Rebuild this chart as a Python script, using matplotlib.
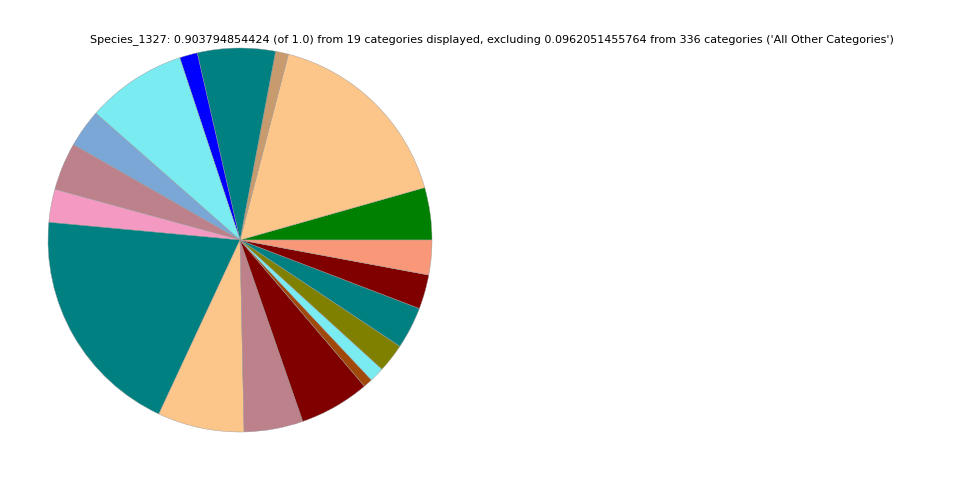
import matplotlib
matplotlib.use("Agg")
import matplotlib.pyplot as plt

categories = [f"Category_{i+1}" for i in range(19)]
values = [0.0398, 0.1495, 0.0098, 0.0592, 0.0136, 0.0763, 0.0289, 0.0364, 0.0251,
          0.1765, 0.0658, 0.0449, 0.0535, 0.0070, 0.0113, 0.0218, 0.0319, 0.0261, 0.0264]
colors = ["#008000", "#FCC68A", "#C89B6E", "#008080", "#0000FF", "#7BEBF2", "#7BA7D7",
          "#BC818B", "#F49AC2", "#008080", "#FCC68A", "#BC818B", "#800000", "#A0490A",
          "#7BEBF2", "#808000", "#008080", "#800000", "#F89878"]
title = ("Species_1327: 0.903794854424 (of 1.0) from 19 categories displayed, excluding "
         "0.0962051455764 from 336 categories ('All Other Categories')")

fig = plt.figure(figsize=(9.6, 4.8), dpi=100)
ax = fig.add_axes([48/960, 48/480, 384/960, 384/480])
ax.pie(values, colors=colors, startangle=0, counterclock=True, normalize=True,
       wedgeprops=dict(edgecolor="#999999", linewidth=0.3))
ax.set_xlim(-1, 1)
ax.set_ylim(-1, 1)
ax.set_aspect("equal")
ax.axis("off")
fig.text(492/960, 1 - 40/480, title, ha="center", va="center", fontsize=8)
fig.savefig("out.png", dpi=100)
